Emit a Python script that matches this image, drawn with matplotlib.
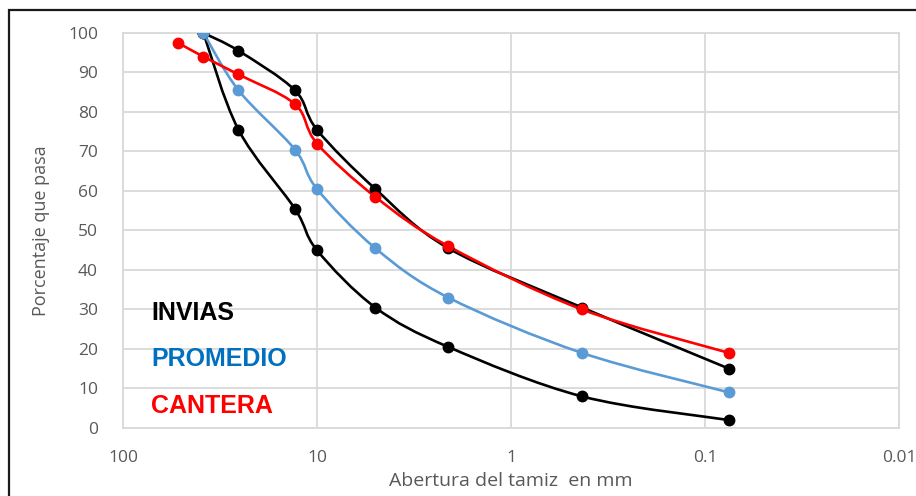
import numpy as np
import matplotlib
matplotlib.use('Agg')
from matplotlib import pyplot as plt
from matplotlib.path import Path
from matplotlib.patches import PathPatch, Rectangle

# sieve openings (mm)
abertura = [52, 38.5, 25.4, 13, 10, 5, 2.1, 0.43, 0.075]
abertura_invias = [38.5, 25.4, 13, 10, 5, 2.1, 0.43, 0.075]

# percent passing
invias_sup = [100, 95.5, 85.5, 75.5, 60.5, 45.5, 30.5, 15]
invias_inf = [100, 75.5, 55.5, 45, 30.5, 20.5, 8, 2]
promedio = [100, 85.5, 70.5, 60.5, 45.5, 33, 19, 9]
cantera = [97.5, 94, 89.5, 82, 72, 58.5, 46, 30, 19]

x_ticks = [100, 10, 1, 0.1, 0.01]
x_ticklabels = ['100', '10', '1', '0.1', '0.01']
y_ticks = list(range(0, 101, 10))

gray = '#595959'
grid = '#d9d9d9'


def smooth_path(x, y):
    # cubic bezier through the points, built in (log10 x, y) space
    u = np.log10(np.asarray(x, dtype=float))
    v = np.asarray(y, dtype=float)
    p = np.column_stack([u, v])
    n = len(p)
    verts = [p[0]]
    codes = [Path.MOVETO]
    for i in range(n - 1):
        p_prev = p[i - 1] if i > 0 else p[i]
        p_next2 = p[i + 2] if i + 2 < n else p[i + 1]
        c1 = p[i] + (p[i + 1] - p_prev) / 6.0
        c2 = p[i + 1] - (p_next2 - p[i]) / 6.0
        verts += [c1, c2, p[i + 1]]
        codes += [Path.CURVE4] * 3
    verts = np.array(verts)
    verts[:, 0] = 10 ** verts[:, 0]
    return Path(verts, codes)


def serie(ax, x, y, color):
    ax.add_patch(PathPatch(smooth_path(x, y), fill=False, edgecolor=color,
                           lw=1.9, zorder=3, capstyle='round', joinstyle='round'))
    ax.plot(x, y, 'o', color=color, ms=7.5, zorder=4)


fig = plt.figure(figsize=(9.16, 4.96), dpi=100)
ax = fig.add_axes([0.1343, 0.1371, 0.8471, 0.7964])

serie(ax, abertura_invias, invias_sup, 'black')
serie(ax, abertura_invias, invias_inf, 'black')
serie(ax, abertura_invias, promedio, '#5b9bd5')
serie(ax, abertura, cantera, '#ff0000')

ax.set_xscale('log')
ax.set_xlim(100, 0.01)
ax.set_ylim(0, 100)
ax.set_xticks(x_ticks)
ax.set_xticklabels(x_ticklabels)
ax.xaxis.set_minor_locator(matplotlib.ticker.NullLocator())
ax.set_yticks(y_ticks)
ax.grid(True, color=grid, lw=1.3)
ax.set_axisbelow(True)
for s in ax.spines.values():
    s.set_color(grid)
    s.set_linewidth(1.3)
ax.tick_params(length=0, labelsize=12.5, labelcolor=gray)
ax.tick_params(axis='x', pad=16)
ax.tick_params(axis='y', pad=18)
for lab in ax.get_xticklabels() + ax.get_yticklabels():
    lab.set_family('Open Sans')

ax.set_xlabel('Abertura del tamiz  en mm', fontsize=14, color=gray,
              family='Open Sans', labelpad=4)
ax.set_ylabel('Porcentaje que pasa', fontsize=13, color=gray,
              family='Open Sans', labelpad=13)

# legend written as coloured text
leyenda = [('INVIAS', 'black', 29), ('PROMEDIO', '#0070c0', 17.5), ('CANTERA', '#ff0000', 5.5)]
for txt, c, yy in leyenda:
    ax.text(0.036, yy, txt, transform=ax.get_yaxis_transform(), color=c,
            fontsize=18, fontweight='bold', family='Liberation Sans', va='center')

# outer frame
fig.patches.append(Rectangle((9 / 916, -0.2), 1.2, 1.2 - 10 / 496,
                             transform=fig.transFigure, fill=False,
                             edgecolor='#1a1a1a', lw=1.6))

fig.savefig('out.png', dpi=100)
